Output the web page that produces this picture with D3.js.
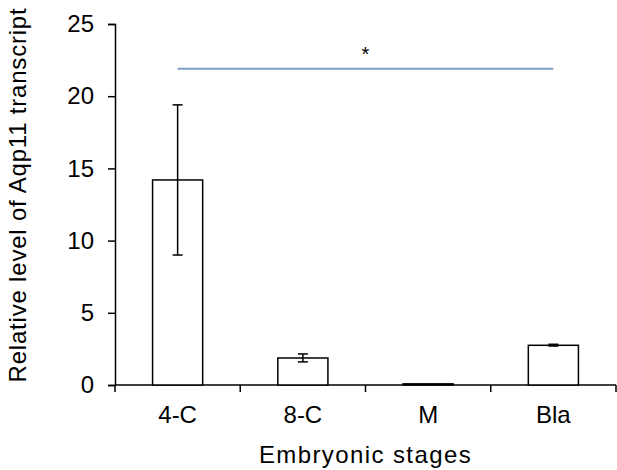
<!DOCTYPE html>
<html>
<head>
<meta charset="utf-8">
<script src="https://cdn.jsdelivr.net/npm/d3@7"></script>
<style>
  body { margin: 0; background: #fff; }
  text { font-family: "Liberation Sans", Arial, sans-serif; fill: #000; }
</style>
</head>
<body>
<svg id="chart" width="617" height="470"></svg>
<script>
// data
const stages = ['4-C', '8-C', 'M', 'Bla'];
const means = [14.2, 1.87, 0.08, 2.75];
const errLow = [9.0, 1.6, 0.05, 2.7];
const errHigh = [19.4, 2.15, 0.11, 2.82];
const yTicks = [0, 5, 10, 15, 20, 25];
const sigFrom = '4-C', sigTo = 'Bla', sigLevel = 21.9, sigLabel = '*';

const margin = {top: 24, right: 1, bottom: 85, left: 115};
const width = 617 - margin.left - margin.right;
const height = 470 - margin.top - margin.bottom;

const svg = d3.select('#chart');
const g = svg.append('g').attr('transform', 'translate(' + margin.left + ',' + margin.top + ')');

const x = d3.scaleBand().domain(stages).range([0, width]).paddingInner(0.6).paddingOuter(0.3);
const xAxisScale = d3.scaleBand().domain(stages).range([0, width]);
const y = d3.scaleLinear().domain([0, 25]).range([height, 0]);

// y axis
const yAxis = g.append('g')
    .call(d3.axisLeft(y).tickValues(yTicks).tickSize(7).tickPadding(14));
yAxis.attr('font-size', null).attr('font-family', null);
yAxis.selectAll('text').style('font-size', '24px');
yAxis.select('.domain').attr('stroke-width', 1.5);
yAxis.selectAll('.tick line').attr('stroke-width', 1.5);

// x axis with ticks at band boundaries
const xg = g.append('g').attr('transform', 'translate(0,' + height + ')');
xg.append('line').attr('x1', 0).attr('x2', width).attr('stroke', '#000').attr('stroke-width', 1.5);
const bounds = stages.map(s => xAxisScale(s)).concat([width]);
xg.selectAll('.tk').data(bounds).enter().append('line')
    .attr('x1', d => d).attr('x2', d => d).attr('y1', 0).attr('y2', 7)
    .attr('stroke', '#000').attr('stroke-width', 1.5);
xg.selectAll('.lbl').data(stages).enter().append('text')
    .attr('x', d => xAxisScale(d) + xAxisScale.bandwidth() / 2)
    .attr('y', 38).attr('text-anchor', 'middle').style('font-size', '24px')
    .text(d => d);

// bars
const data = stages.map((s, i) => ({s: s, m: means[i], lo: errLow[i], hi: errHigh[i]}));
g.selectAll('.bar').data(data).enter().append('rect')
    .attr('x', d => x(d.s)).attr('width', x.bandwidth())
    .attr('y', d => y(d.m)).attr('height', d => y(0) - y(d.m))
    .attr('fill', '#fff').attr('stroke', '#000').attr('stroke-width', 1.5);

// error bars
const cx = d => x(d.s) + x.bandwidth() / 2;
const eb = g.selectAll('.err').data(data.filter(d => d.s !== 'M')).enter().append('g').attr('stroke', '#000').attr('stroke-width', 1.5);
eb.append('line').attr('x1', cx).attr('x2', cx).attr('y1', d => y(d.lo)).attr('y2', d => y(d.hi));
eb.append('line').attr('x1', d => cx(d) - 5).attr('x2', d => cx(d) + 5).attr('y1', d => y(d.lo)).attr('y2', d => y(d.lo));
eb.append('line').attr('x1', d => cx(d) - 5).attr('x2', d => cx(d) + 5).attr('y1', d => y(d.hi)).attr('y2', d => y(d.hi));

// significance line
const sx1 = x(sigFrom) + x.bandwidth() / 2, sx2 = x(sigTo) + x.bandwidth() / 2;
g.append('line').attr('x1', sx1).attr('x2', sx2).attr('y1', y(sigLevel)).attr('y2', y(sigLevel))
    .attr('stroke', '#7f9fc2').attr('stroke-width', 2);
g.append('text').attr('x', (sx1 + sx2) / 2).attr('y', y(sigLevel) - 8)
    .attr('text-anchor', 'middle').style('font-size', '20px').text(sigLabel);

// titles
svg.append('text').attr('x', margin.left + width / 2).attr('y', 463)
    .attr('text-anchor', 'middle').style('font-size', '24px').style('letter-spacing', '1.4px')
    .text('Embryonic stages');
svg.append('text').attr('transform', 'translate(26,' + 195 + ') rotate(-90)')
    .attr('text-anchor', 'middle').style('font-size', '24px').style('letter-spacing', '0.8px')
    .text('Relative level of Aqp11 transcript');
</script>
</body>
</html>
